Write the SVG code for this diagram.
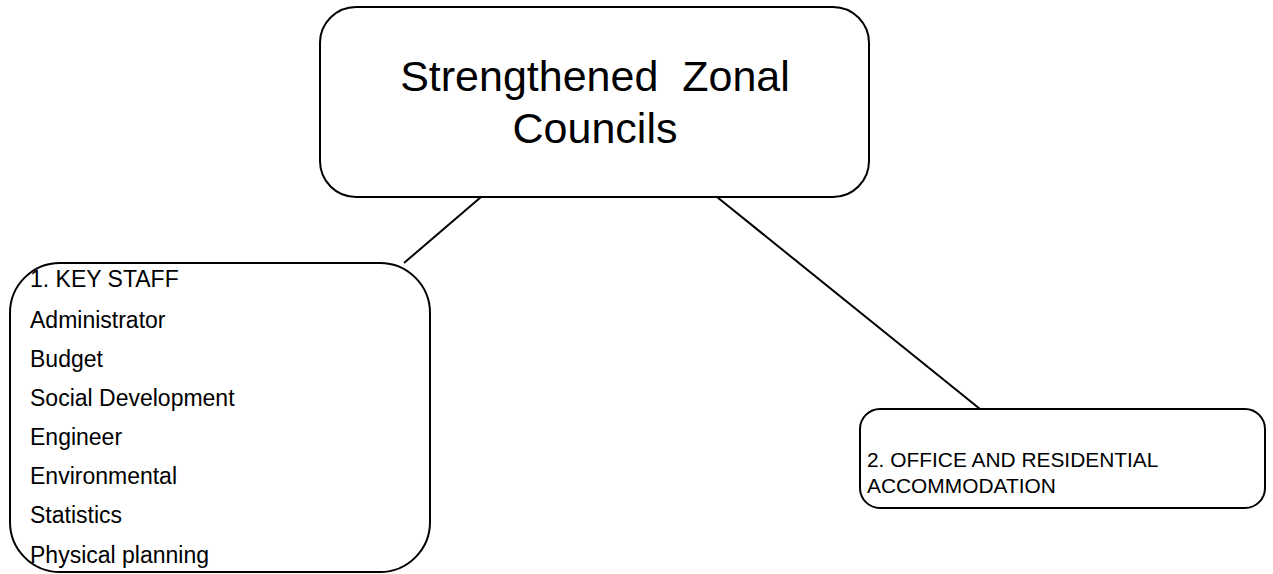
<svg xmlns="http://www.w3.org/2000/svg" width="1273" height="574" viewBox="0 0 1273 574">
<style>
.box{fill:#fff;stroke:#000;stroke-width:2}
.t{font-family:"Liberation Sans",Arial,sans-serif;fill:#000}
.conn line{stroke:#000;stroke-width:2}
</style>
<rect x="0" y="0" width="1273" height="574" fill="#fff"/>
<g id="connectors" class="conn">
<line x1="481" y1="197" x2="404" y2="263"/>
<line x1="717" y1="197" x2="980" y2="409"/>
</g>
<g id="node-top">
<rect class="box" x="320" y="7" width="549" height="190" rx="36" ry="36"/>
<text class="t" x="595" y="91" font-size="43" text-anchor="middle" xml:space="preserve">Strengthened  Zonal</text>
<text class="t" x="595" y="143" font-size="43" text-anchor="middle">Councils</text>
</g>
<g id="node-key-staff">
<rect class="box" x="10" y="263" width="420" height="309" rx="50" ry="50"/>
<g class="t" font-size="23">
<text x="30" y="287">1. KEY STAFF</text>
<text x="30" y="328">Administrator</text>
<text x="30" y="367">Budget</text>
<text x="30" y="406">Social Development</text>
<text x="30" y="445">Engineer</text>
<text x="30" y="484">Environmental</text>
<text x="30" y="523">Statistics</text>
<text x="30" y="563">Physical planning</text>
</g>
</g>
<g id="node-office">
<rect class="box" x="860" y="409" width="405" height="99" rx="20" ry="20"/>
<text class="t" x="867" y="467" font-size="20.9">2. OFFICE AND RESIDENTIAL</text>
<text class="t" x="867" y="493" font-size="20.9">ACCOMMODATION</text>
</g>
</svg>
